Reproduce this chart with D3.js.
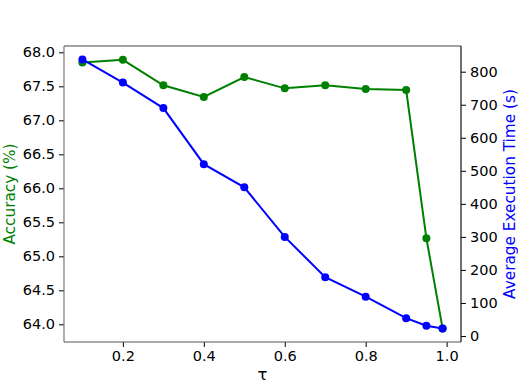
<!DOCTYPE html>
<html><head><meta charset="utf-8">
<script src="https://cdn.jsdelivr.net/npm/d3@7"></script>
<style>body{margin:0;background:#fff}svg{display:block;font-family:"DejaVu Sans",sans-serif}</style>
</head><body><svg id="c" width="518" height="385"></svg>
<script>
const tau = [0.1,0.2,0.3,0.4,0.5,0.6,0.7,0.8,0.9,0.95,0.99];
const accuracy = [67.85,67.89,67.515,67.343,67.637,67.47,67.515,67.46,67.445,65.265,63.94];
const execTime = [837,767,690,520,450,300,178,119,54,31,23];
const xTicks = [0.2,0.4,0.6,0.8,1.0];
const accTicks = [64.0,64.5,65.0,65.5,66.0,66.5,67.0,67.5,68.0];
const timeTicks = [0,100,200,300,400,500,600,700,800];

const L=64,R=461,T=46,B=342;
const svg=d3.select("#c");
const x=d3.scaleLinear().domain([0.0545,1.0355]).range([L,R]);
const yA=d3.scaleLinear().domain([63.74,68.093]).range([B,T]);
const yT=d3.scaleLinear().domain([-18.2,877.8]).range([B,T]);

function styleAxis(g){
  g.selectAll("text").attr("font-size","14.5px").attr("fill","#000").attr("font-family","DejaVu Sans");
  g.selectAll(".tick line").attr("stroke","#000").attr("stroke-width",1);
  g.select(".domain").remove();
}
svg.append("g").attr("transform",`translate(0,${B})`)
  .call(d3.axisBottom(x).tickValues(xTicks).tickFormat(d3.format(".1f")).tickSizeOuter(0).tickSize(5).tickPadding(4)).call(styleAxis);
svg.append("g").attr("transform",`translate(${L},0)`)
  .call(d3.axisLeft(yA).tickValues(accTicks).tickFormat(d3.format(".1f")).tickSize(5).tickPadding(4)).call(styleAxis);
svg.append("g").attr("transform",`translate(${R},0)`)
  .call(d3.axisRight(yT).tickValues(timeTicks).tickFormat(d3.format("d")).tickSize(5).tickPadding(4)).call(styleAxis);

// spines
const sp=svg.append("g").attr("fill","none");
sp.append("line").attr("x1",L).attr("x2",L).attr("y1",T).attr("y2",B).attr("stroke","#777").attr("stroke-width",1.2);
sp.append("line").attr("x1",L).attr("x2",R).attr("y1",B).attr("y2",B).attr("stroke","#555").attr("stroke-width",1.2);
sp.append("line").attr("x1",L).attr("x2",R).attr("y1",T).attr("y2",T).attr("stroke","#444").attr("stroke-width",1.2);
sp.append("line").attr("x1",R).attr("x2",R).attr("y1",T).attr("y2",B).attr("stroke","#111").attr("stroke-width",1.2);

const gA=svg.append("g");
gA.append("path").datum(tau.map((t,i)=>[t,accuracy[i]]))
  .attr("fill","none").attr("stroke","#008000").attr("stroke-width",2)
  .attr("d",d3.line().x(d=>x(d[0])).y(d=>yA(d[1])));
gA.selectAll("circle").data(tau.map((t,i)=>[t,accuracy[i]])).join("circle")
  .attr("cx",d=>x(d[0])).attr("cy",d=>yA(d[1])).attr("r",4).attr("fill","#008000");

const gT=svg.append("g");
gT.append("path").datum(tau.map((t,i)=>[t,execTime[i]]))
  .attr("fill","none").attr("stroke","#0000ff").attr("stroke-width",2)
  .attr("d",d3.line().x(d=>x(d[0])).y(d=>yT(d[1])));
gT.selectAll("circle").data(tau.map((t,i)=>[t,execTime[i]])).join("circle")
  .attr("cx",d=>x(d[0])).attr("cy",d=>yT(d[1])).attr("r",4).attr("fill","#0000ff");

svg.append("text").attr("transform",`translate(14.5,${(T+B)/2}) rotate(-90)`)
  .attr("text-anchor","middle").attr("font-size","15.3px").attr("fill","#008000").text("Accuracy (%)");
svg.append("text").attr("transform",`translate(514.5,${(T+B)/2}) rotate(-90)`)
  .attr("text-anchor","middle").attr("font-size","15.3px").attr("fill","#0000ff").text("Average Execution Time (s)");
svg.append("text").attr("x",(L+R)/2).attr("y",380)
  .attr("text-anchor","middle").attr("font-size","16.5px").attr("fill","#000").text("τ");
</script></body></html>
